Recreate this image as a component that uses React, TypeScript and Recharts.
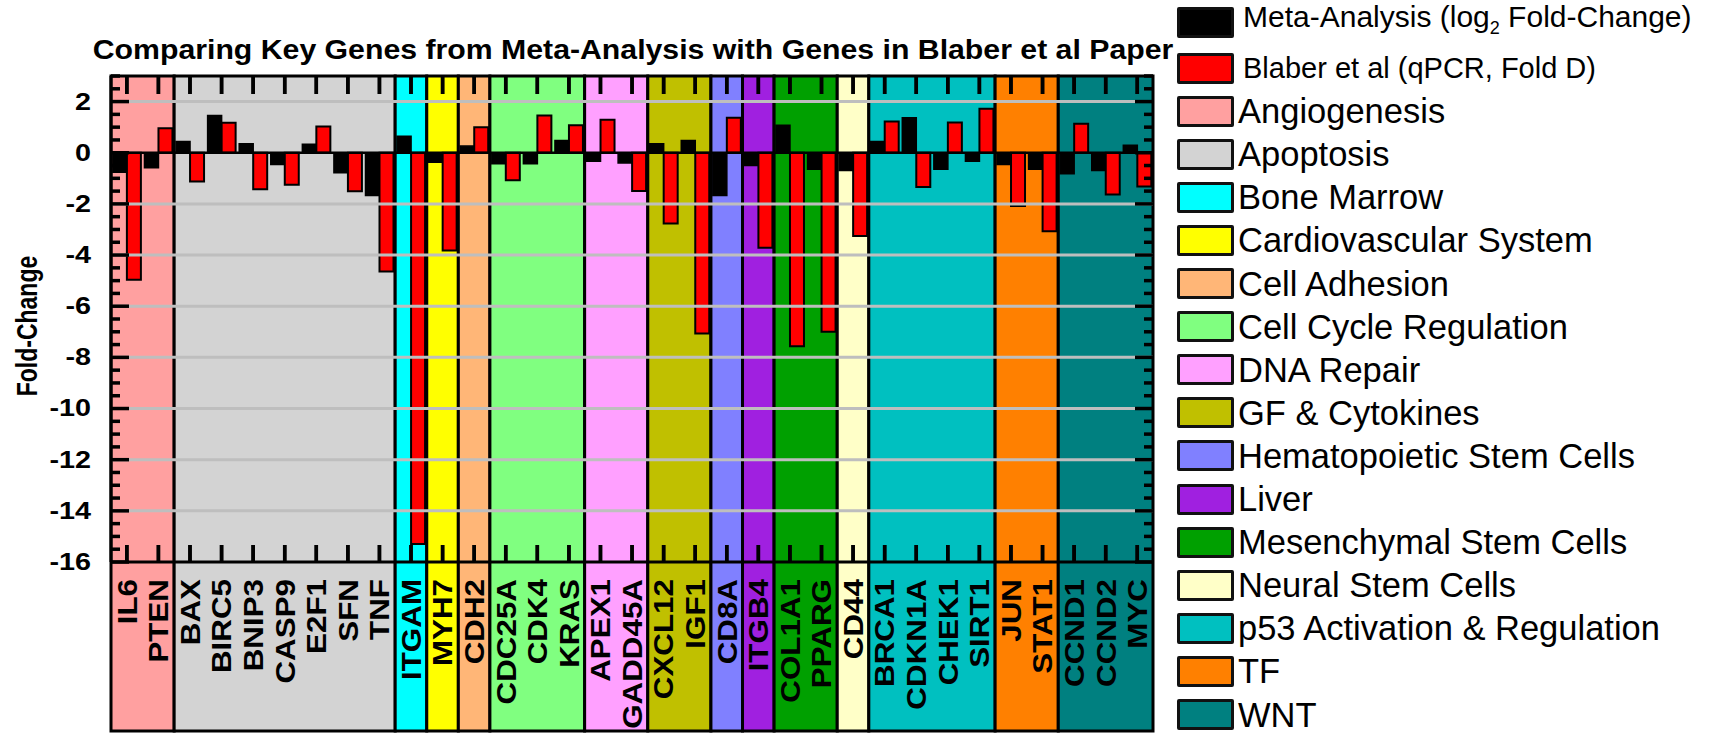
import React from 'react';
import { ComposedChart, Bar, XAxis, YAxis, ReferenceArea, ReferenceLine, Legend, Rectangle } from 'recharts';

// ---------- data ----------
const genes = [
  'IL6', 'PTEN', 'BAX', 'BIRC5', 'BNIP3', 'CASP9', 'E2F1', 'SFN', 'TNF', 'ITGAM', 'MYH7', 'CDH2',
  'CDC25A', 'CDK4', 'KRAS', 'APEX1', 'GADD45A', 'CXCL12', 'IGF1', 'CD8A', 'ITGB4', 'COL1A1', 'PPARG',
  'CD44', 'BRCA1', 'CDKN1A', 'CHEK1', 'SIRT1', 'JUN', 'STAT1', 'CCND1', 'CCND2', 'MYC',
];
const metaAnalysis = [
  -0.76, -0.59, 0.44, 1.46, 0.35, -0.46, 0.33, -0.78, -1.67, 0.64, -0.37, 0.26,
  -0.43, -0.43, 0.48, -0.33, -0.4, 0.35, 0.48, -1.67, -0.5, 1.07, -0.65,
  -0.69, 0.44, 1.37, -0.65, -0.33, -0.46, -0.65, -0.82, -0.69, 0.29,
];
const blaberQpcr = [
  -4.97, 0.96, -1.12, 1.17, -1.43, -1.25, 1.03, -1.51, -4.64, -15.3, -3.82, 1.0,
  -1.08, 1.46, 1.07, 1.29, -1.5, -2.77, -7.07, 1.37, -3.71, -7.57, -7.0,
  -3.26, 1.22, -1.34, 1.18, 1.72, -2.08, -3.07, 1.13, -1.63, -1.32,
];

const groupNames = [
  'Angiogenesis', 'Apoptosis', 'Bone Marrow', 'Cardiovascular System', 'Cell Adhesion',
  'Cell Cycle Regulation', 'DNA Repair', 'GF & Cytokines', 'Hematopoietic Stem Cells', 'Liver',
  'Mesenchymal Stem Cells', 'Neural Stem Cells', 'p53 Activation & Regulation', 'TF', 'WNT',
];
const groupColors = [
  '#FFA0A0', '#D3D3D3', '#00FFFF', '#FFFF00', '#FFB677',
  '#80FF80', '#FFA0FF', '#C0C000', '#8080FF', '#A020E0',
  '#00A000', '#FFFFC8', '#00C0C0', '#FF8000', '#008080',
];
const groupFirstGene = ['IL6', 'BAX', 'ITGAM', 'MYH7', 'CDH2', 'CDC25A', 'APEX1', 'CXCL12', 'CD8A', 'ITGB4', 'COL1A1', 'CD44', 'BRCA1', 'JUN', 'CCND1'];
const groupLastGene = ['PTEN', 'TNF', 'ITGAM', 'MYH7', 'CDH2', 'KRAS', 'GADD45A', 'IGF1', 'CD8A', 'ITGB4', 'PPARG', 'CD44', 'SIRT1', 'STAT1', 'MYC'];

const seriesNames = ['Meta-Analysis (log', 'Blaber et al (qPCR, Fold D)'];
const seriesColors = ['#000000', '#FF0000'];

const yMajorTicks = [2, 0, -2, -4, -6, -8, -10, -12, -14, -16];
const yDomain = [-16, 3];
const gridValues = [2, -2, -4, -6, -8, -10, -12, -14];

const titleText = 'Comparing Key Genes from Meta-Analysis with Genes in Blaber et al Paper';
const yLabelText = 'Fold-Change';

const data = genes.map((g, i) => ({ gene: g, meta: metaAnalysis[i], blaber: blaberQpcr[i] }));

// ---------- layout ----------
const W = 1713;
const H = 734;
const PLOT_LEFT = 111;
const PLOT_TOP = 76;
const PLOT_RIGHT = 1153;
const PLOT_BOTTOM = 562;
const LABEL_BOTTOM = 731;
const TICK_W = 3.5;
const FONT = "'Liberation Sans', Arial, Helvetica, sans-serif";
const labelBottomValue =
  yDomain[0] - ((LABEL_BOTTOM - PLOT_BOTTOM) * (yDomain[1] - yDomain[0])) / (PLOT_BOTTOM - PLOT_TOP);

// all y tick positions (major + minor every 0.5)
const yAllTicks: number[] = [];
for (let k = 0; k <= 38; k++) yAllTicks.push(yDomain[0] + k * 0.5);

const YTick = (props: any) => {
  const { y, payload } = props;
  const v = payload.value;
  const major = yMajorTicks.includes(v);
  const len = major ? 18 : 9;
  return (
    <g>
      <rect x={PLOT_LEFT} y={y - TICK_W / 2} width={len} height={TICK_W} fill="#000" />
      <rect x={PLOT_RIGHT - len} y={y - TICK_W / 2} width={len} height={TICK_W} fill="#000" />
      {major && (
        <text
          transform={`translate(91, ${y}) scale(1.25, 1)`}
          x={0}
          y={0}
          textAnchor="end"
          dominantBaseline="central"
          fontSize={23}
          fontWeight="bold"
          fontFamily={FONT}
          fill="#000"
        >
          {v}
        </text>
      )}
    </g>
  );
};

const XTick = (props: any) => {
  const { x, payload } = props;
  return (
    <g>
      <rect x={x - TICK_W / 2} y={PLOT_TOP} width={TICK_W} height={18} fill="#000" />
      <rect x={x - TICK_W / 2} y={PLOT_BOTTOM - 17} width={TICK_W} height={17} fill="#000" />
      <text
        transform={`translate(${x}, 579) rotate(-90) scale(1.12, 1)`}
        x={0}
        y={0}
        textAnchor="end"
        dominantBaseline="central"
        fontSize={28}
        fontWeight="bold"
        fontFamily={FONT}
        fill="#000"
      >
        {payload.value}
      </text>
    </g>
  );
};

// Meta-analysis bar, also carrying the top/bottom category tick marks
const MetaShape = (props: any) => {
  const { x, y, width, height } = props;
  const cx = x + width;
  return (
    <g>
      <rect x={cx - TICK_W / 2} y={PLOT_TOP} width={TICK_W} height={18} fill="#000" />
      <rect x={cx - TICK_W / 2} y={PLOT_BOTTOM - 17} width={TICK_W} height={17} fill="#000" />
      <Rectangle x={x} y={y} width={width} height={height} fill={seriesColors[0]} stroke="#000" strokeWidth={1.5} />
    </g>
  );
};

const YLabel = () => (
  <text
    transform="translate(27, 326) rotate(-90) scale(1, 1.3)"
    x={0}
    y={0}
    textAnchor="middle"
    dominantBaseline="central"
    fontSize={23}
    fontWeight="bold"
    fontFamily={FONT}
    fill="#000"
  >
    {yLabelText}
  </text>
);

const LegendContent = () => {
  const items = [
    ...seriesNames.map((n, i) => ({ name: n, color: seriesColors[i], small: true, idx: i })),
    ...groupNames.map((n, i) => ({ name: n, color: groupColors[i], small: false, idx: i + 2 })),
  ];
  return (
    <div style={{ position: 'relative', width: 536, height: 726, fontFamily: FONT }}>
      {items.map((it) => {
        const top = it.idx === 0 ? 0 : 46 + (it.idx - 1) * 43.1;
        return (
          <div key={it.name} style={{ position: 'absolute', left: 0, top, height: 32, display: 'flex', alignItems: 'center' }}>
            <div
              style={{
                width: 57,
                height: 31,
                background: it.color,
                border: '3px solid #111',
                borderRadius: 2,
                boxSizing: 'border-box',
                flex: 'none',
              }}
            />
            <div
              style={{
                marginLeft: it.small ? 9 : 4,
                fontSize: it.idx === 0 ? 30 : it.small ? 29 : 34.5,
                lineHeight: '32px',
                color: '#000',
                whiteSpace: 'nowrap',
              }}
            >
              {it.name}
              {it.idx === 0 && (
                <>
                  <sub style={{ fontSize: 18 }}>2</sub> Fold-Change)
                </>
              )}
            </div>
          </div>
        );
      })}
    </div>
  );
};

export default function App() {
  return (
    <div style={{ position: 'absolute', left: 0, top: 0, width: W, height: H, background: '#fff' }}>
      <div
        style={{
          position: 'absolute',
          left: 0,
          width: 1266,
          top: 35,
          textAlign: 'center',
          fontFamily: FONT,
          fontWeight: 'bold',
          fontSize: 27,
          lineHeight: '30px',
          color: '#000',
          zIndex: 2,
          transform: 'scaleX(1.12)',
          transformOrigin: '633px 0',
          whiteSpace: 'nowrap',
        }}
      >
        {titleText}
      </div>
      <ComposedChart
        width={W}
        height={H}
        data={data}
        margin={{ top: PLOT_TOP, right: W - PLOT_RIGHT, bottom: 0, left: 0 }}
        barCategoryGap="6%"
        barGap={0}
      >
        {groupNames.map((g, i) => (
          <ReferenceArea
            key={g}
            x1={groupFirstGene[i]}
            x2={groupLastGene[i]}
            y1={labelBottomValue}
            y2={yDomain[1]}
            ifOverflow="visible"
            fill={groupColors[i]}
            fillOpacity={1}
            stroke="#000"
            strokeWidth={3}
          />
        ))}
        {gridValues.map((v) => (
          <ReferenceLine key={v} y={v} stroke="#BEBEBE" strokeWidth={3} ifOverflow="visible" />
        ))}
        <ReferenceLine y={0} stroke="#000" strokeWidth={2.5} />
        <Bar
          dataKey="meta"
          name={seriesNames[0]}
          fill={seriesColors[0]}
          stroke="#000"
          strokeWidth={1.5}
          isAnimationActive={false}
          shape={<MetaShape />}
        />
        <Bar dataKey="blaber" name={seriesNames[1]} fill={seriesColors[1]} stroke="#000" strokeWidth={2} isAnimationActive={false} />
        <XAxis
          dataKey="gene"
          type="category"
          height={H - PLOT_BOTTOM}
          interval={0}
          tickLine={false}
          tick={<XTick />}
          axisLine={{ stroke: '#000', strokeWidth: 3 }}
        />
        <YAxis
          type="number"
          domain={yDomain}
          ticks={yAllTicks}
          interval={0}
          allowDataOverflow
          width={PLOT_LEFT}
          tickLine={false}
          tick={<YTick />}
          axisLine={{ stroke: '#000', strokeWidth: 3 }}
          label={<YLabel />}
        />
        <Legend
          layout="vertical"
          align="center"
          verticalAlign="middle"
          content={<LegendContent />}
          wrapperStyle={{ left: 1177, top: 6, width: 536, height: 728 }}
        />
      </ComposedChart>
    </div>
  );
}
